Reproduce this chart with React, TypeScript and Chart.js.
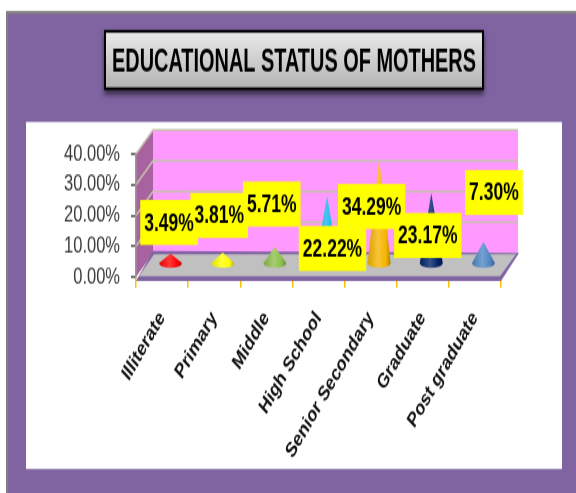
import React, { useEffect, useRef } from "react";
import { Chart, registerables } from "chart.js";

Chart.register(...registerables);

const categories = ["Illiterate", "Primary", "Middle", "High School", "Senior Secondary", "Graduate", "Post graduate"];
const shares = [3.49, 3.81, 5.71, 22.22, 34.29, 23.17, 7.3];
const coneColors = ["#ff0000", "#ffff00", "#8cc04a", "#14b4ee", "#f7b500", "#002266", "#4f86c4"];
const titleText = "EDUCATIONAL STATUS OF MOTHERS";
const FONT = '"Liberation Sans Narrow", "Liberation Sans", sans-serif';

// The picture is vertically stretched: the canvas is drawn shorter and scaled up.
const CANVAS_W = 576;
const CANVAS_H = 365;
const K = 493 / CANVAS_H;
const DEPTH_X = 17;
const DEPTH_Y = 24 / K;
// Hand-placed label box centres, relative to each bar top (screen px)
const labelDX = [7, 5, 5.4, 14, 1, 5, 19];
const labelDY = [-43.8, -49.8, -55.4, 39.8, 34.9, 29.7, -62.1];

function shade(hex: string, f: number) {
  const n = parseInt(hex.slice(1), 16);
  const c = [(n >> 16) & 255, (n >> 8) & 255, n & 255].map((v) =>
    Math.round(f < 0 ? v * (1 + f) : v + (255 - v) * f)
  );
  return `rgb(${c[0]},${c[1]},${c[2]})`;
}

const poly = (ctx: CanvasRenderingContext2D, pts: number[][], fill: string) => {
  ctx.beginPath();
  pts.forEach(([x, y], i) => (i ? ctx.lineTo(x, y) : ctx.moveTo(x, y)));
  ctx.closePath();
  ctx.fillStyle = fill;
  ctx.fill();
};

const scenePlugin = {
  id: "scene",
  afterLayout(chart: any) {
    const t = chart.titleBlock;
    t.left = 112;
    t.right = 476;
    t.top = 62.5 / K - 15;
    t.bottom = t.top + 30;
  },
  beforeDraw(chart: any) {
    const { ctx, chartArea: a, scales } = chart;
    ctx.save();
    ctx.fillStyle = "#ffffff";
    ctx.fillRect(0, 0, CANVAS_W, CANVAS_H);
    ctx.fillStyle = "#808080";
    ctx.fillRect(6, 11 / K, CANVAS_W - 6, CANVAS_H - 11 / K);
    ctx.fillStyle = "#8064a2";
    ctx.fillRect(8, 14 / K, CANVAS_W - 8, CANVAS_H - 14 / K);
    ctx.fillStyle = "#ffffff";
    ctx.fillRect(26, 122 / K, 536, 347 / K);

    // title plate
    const bx = 104, by = 30 / K, bw = 380, bh = 60 / K;
    ctx.save();
    ctx.shadowColor = "rgba(0,0,0,0.55)";
    ctx.shadowBlur = 4;
    ctx.shadowOffsetY = 3;
    ctx.fillStyle = "#000";
    ctx.fillRect(bx, by, bw, bh);
    ctx.restore();
    const g = ctx.createLinearGradient(0, by, 0, by + bh);
    g.addColorStop(0, "#ececec");
    g.addColorStop(1, "#b2b2b2");
    ctx.fillStyle = g;
    ctx.fillRect(bx + 2, by + 2, bw - 4, bh - 4);

    // walls
    const L = a.left, R = a.right, T = a.top, B = a.bottom;
    poly(ctx, [[L + DEPTH_X, T - DEPTH_Y], [R + DEPTH_X, T - DEPTH_Y], [R + DEPTH_X, B - DEPTH_Y], [L + DEPTH_X, B - DEPTH_Y]], "#ff99ff");
    poly(ctx, [[L, T], [L + DEPTH_X, T - DEPTH_Y], [L + DEPTH_X, B - DEPTH_Y], [L, B]], "#a8629f");
    ctx.strokeStyle = "#c8c0ae";
    ctx.lineWidth = 1.6;
    scales.y.ticks.forEach((tick: any) => {
      const y = scales.y.getPixelForValue(tick.value);
      if (tick.value === 0) return;
      ctx.beginPath();
      ctx.moveTo(L, y);
      ctx.lineTo(L + DEPTH_X, y - DEPTH_Y);
      ctx.lineTo(R + DEPTH_X, y - DEPTH_Y);
      ctx.stroke();
    });
    ctx.restore();
  },
  beforeDatasetsDraw(chart: any) {
    const { ctx, chartArea: a } = chart;
    const L = a.left, R = a.right, B = a.bottom;
    ctx.save();
    poly(ctx, [[L, B + 3], [R, B + 3], [R + DEPTH_X + 1, B - DEPTH_Y], [L + DEPTH_X, B - DEPTH_Y - 1.5]], "#8064a2");
    poly(ctx, [[L + 3, B - 0.5], [R - 1, B - 0.5], [R + DEPTH_X - 2, B - DEPTH_Y + 1], [L + DEPTH_X + 1, B - DEPTH_Y + 1]], "#c0c0c0");
    ctx.restore();
  },
  afterDatasetsDraw(chart: any) {
    const { ctx } = chart;
    const bars = chart.getDatasetMeta(0).data;
    ctx.save();
    bars.forEach((el: any, i: number) => {
      const cx = el.x + DEPTH_X / 2;
      const base = el.base - DEPTH_Y / 2 - 0.5;
      const tip = el.y - DEPTH_Y / 2 - 0.5;
      const r = el.width / 2;
      const ry = 3.6;
      const col = coneColors[i];
      const g = ctx.createLinearGradient(cx - r, 0, cx + r, 0);
      g.addColorStop(0, shade(col, -0.12));
      g.addColorStop(0.45, shade(col, 0.22));
      g.addColorStop(0.8, col);
      g.addColorStop(1, shade(col, -0.3));
      ctx.fillStyle = g;
      ctx.beginPath();
      ctx.moveTo(cx, tip);
      ctx.lineTo(cx + r, base);
      ctx.ellipse(cx, base, r, ry, 0, 0, Math.PI);
      ctx.closePath();
      ctx.fill();
    });
    ctx.font = `bold 17.5px ${FONT}`;
    ctx.textAlign = "center";
    ctx.textBaseline = "middle";
    const labelText = (i: number) => `${shares[i].toFixed(2)}%`;
    bars.forEach((el: any, i: number) => {
      const w = ctx.measureText(labelText(i)).width + 8;
      const h = 45 / K;
      ctx.fillStyle = "#ffff00";
      ctx.fillRect(el.x + labelDX[i] - w / 2, el.y + labelDY[i] / K - h / 2, w, h);
    });
    ctx.fillStyle = "#000000";
    bars.forEach((el: any, i: number) => {
      ctx.fillText(labelText(i), el.x + labelDX[i], el.y + labelDY[i] / K + 1);
    });
    ctx.restore();
  },
};

export default function App() {
  const ref = useRef<HTMLCanvasElement>(null);
  useEffect(() => {
    const chart = new Chart(ref.current!, {
      type: "bar",
      data: {
        labels: categories,
        datasets: [
          {
            label: "Educational status of mothers",
            data: shares,
            backgroundColor: "rgba(0,0,0,0)",
            borderWidth: 0,
            barPercentage: 0.44,
            categoryPercentage: 1,
          },
        ],
      },
      options: {
        responsive: false,
        animation: false,
        layout: { padding: { left: 46, right: 75, top: 154 / K - 30, bottom: 10 } },
        plugins: {
          legend: { display: false },
          tooltip: { enabled: false },
          title: {
            display: true,
            text: titleText,
            color: "#000000",
            font: { family: FONT, size: 23.5, weight: "bold", lineHeight: 30 / 23.5 },
            padding: 0,
          },
        },
        scales: {
          x: {
            afterFit: (s: any) => {
              s.height = CANVAS_H - 277 / K - 10;
            },
            grid: { drawOnChartArea: false, color: "#ffc000", tickLength: 8, lineWidth: 1.5 },
            border: { display: false },
            ticks: {
              autoSkip: false,
              minRotation: 52,
              maxRotation: 52,
              padding: 14,
              color: "#111111",
              font: { family: FONT, size: 15.6, weight: "bold" },
            },
          },
          y: {
            min: 0,
            max: 40,
            afterFit: (s: any) => {
              s.width = 90;
            },
            grid: { drawOnChartArea: false, color: "#7a7a7a", tickLength: 5, lineWidth: 2 },
            border: { display: true, color: "#9a9a9a", width: 1.5 },
            ticks: {
              autoSkip: false,
              stepSize: 10,
              padding: 11,
              color: "#3a3a3a",
              font: { family: FONT, size: 16.5 },
              callback: (v: any) => `${Number(v).toFixed(2)}%`,
            },
          },
        },
      },
      plugins: [scenePlugin],
    } as any);
    return () => chart.destroy();
  }, []);
  return (
    <canvas
      ref={ref}
      width={CANVAS_W}
      height={CANVAS_H}
      style={{
        position: "fixed",
        left: 0,
        top: 0,
        display: "block",
        transformOrigin: "0 0",
        transform: `scaleY(${K})`,
        filter: "blur(0.45px)",
      }}
    />
  );
}
